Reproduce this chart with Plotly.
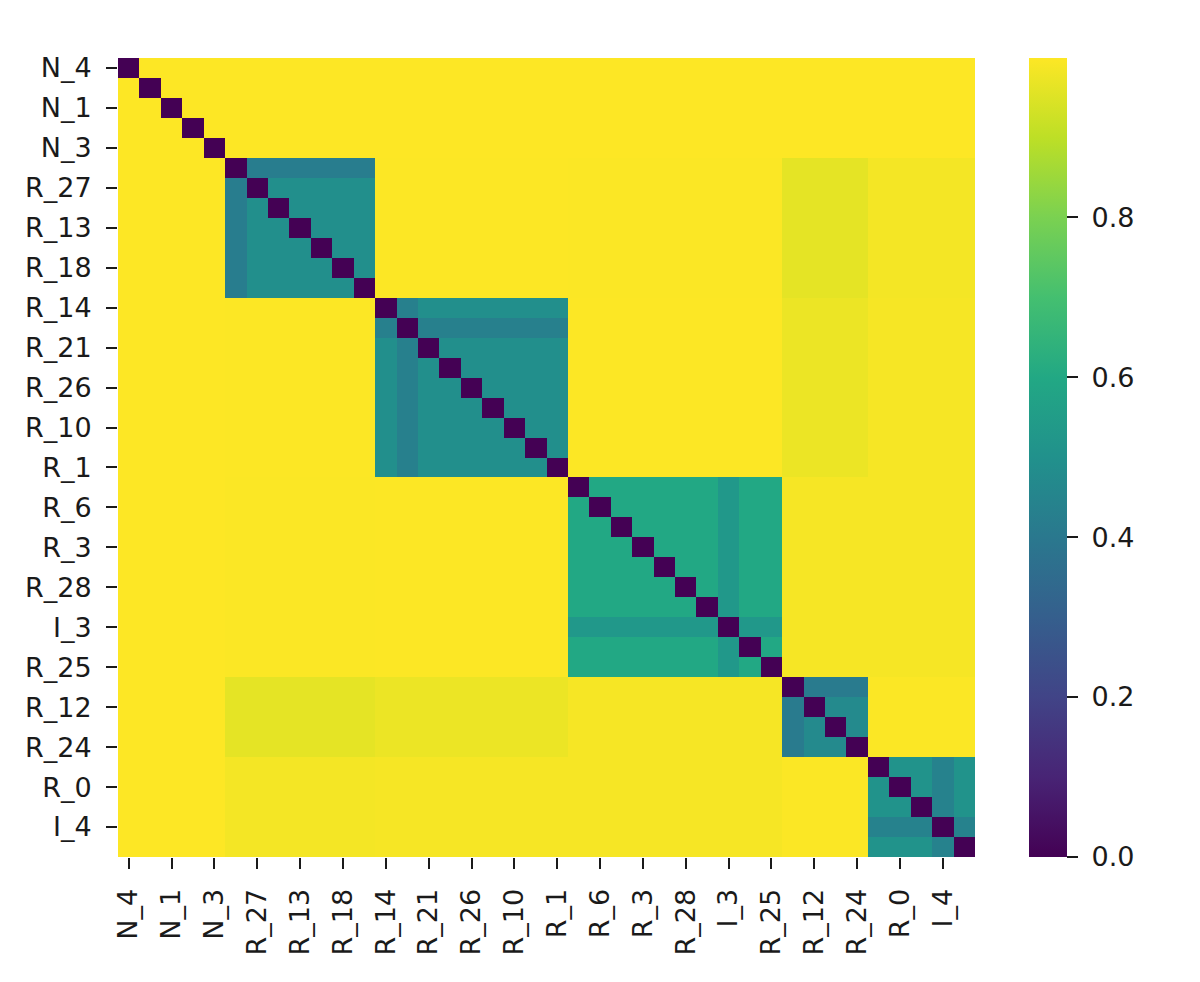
#!/usr/bin/env python3
"""Clustered pairwise distance heatmap (seaborn-style viridis) rebuilt in plotly."""

import plotly.graph_objects as go

# row/column order of the matrix (only every other label is shown on the axes)
labels = [
    "N_4", "N_2", "N_1", "N_0", "N_3",
    "I_0", "R_27", "R_2", "R_13", "R_4", "R_18", "R_5",
    "R_14", "I_1", "R_21", "R_7", "R_26", "R_8", "R_10", "R_9", "R_1",
    "R_11", "R_6", "R_15", "R_3", "R_16", "R_28", "R_17", "I_3", "R_19", "R_25",
    "I_2", "R_12", "R_20", "R_24",
    "R_22", "R_0", "R_23", "I_4", "R_29",
]
# cluster id of every label, in the same order
cluster = [0] * 5 + [1] * 7 + [2] * 9 + [3] * 10 + [4] * 4 + [5] * 5

# distance between two members of the same cluster
within = [0.999, 0.49, 0.49, 0.60, 0.47, 0.51]
# members that sit a little closer to the rest of their cluster
outliers = {"I_0": 0.42, "I_1": 0.43, "I_3": 0.53, "I_2": 0.41, "I_4": 0.44}
# distance between members of two different clusters
between = [
    [0.999, 0.999, 0.999, 0.999, 0.999, 0.999],
    [0.999, 0.999, 0.998, 0.996, 0.962, 0.985],
    [0.999, 0.998, 0.999, 0.997, 0.972, 0.988],
    [0.999, 0.996, 0.997, 0.999, 0.988, 0.988],
    [0.999, 0.962, 0.972, 0.988, 0.999, 0.996],
    [0.999, 0.985, 0.988, 0.988, 0.996, 0.999],
]

colorbar_ticks = [0.0, 0.2, 0.4, 0.6, 0.8]

# matplotlib viridis sampled at every tenth
VIRIDIS = ["#440154", "#482475", "#414487", "#355f8d", "#2a788e", "#21918c",
           "#22a884", "#44bf70", "#7ad151", "#bddf26", "#fde725"]


def cell(a, b):
    if a == b:
        return 0.0
    ga, gb = cluster[labels.index(a)], cluster[labels.index(b)]
    if ga != gb:
        return between[ga][gb]
    return min(outliers.get(a, within[ga]), outliers.get(b, within[ga]))


z = [[cell(a, b) for b in labels] for a in labels]
zmax = max(max(row) for row in z)

font = dict(family="DejaVu Sans", size=27, color="#1a1a1a")
fig = go.Figure(
    go.Heatmap(
        x=labels,
        y=labels,
        z=z,
        zmin=0,
        zmax=zmax,
        colorscale=[[i / 10, c] for i, c in enumerate(VIRIDIS)],
        colorbar=dict(
            x=(1029 - 118) / 857,
            xanchor="left",
            xpad=0,
            y=0.5,
            yanchor="middle",
            ypad=0,
            len=1,
            thickness=38,
            outlinewidth=0,
            tickvals=colorbar_ticks,
            ticktext=[f"\u00a0{v:.1f}" for v in colorbar_ticks],
            ticks="outside",
            ticklen=11,
            tickwidth=1.6,
            tickcolor="#1a1a1a",
            tickfont=font,
        ),
    )
)

axis = dict(
    type="category",
    tickvals=labels[::2],
    ticktext=labels[::2],
    ticks="outside",
    ticklen=11,
    tickwidth=1.6,
    tickcolor="#1a1a1a",
    tickfont=font,
    ticklabelstandoff=9,
    showgrid=False,
    zeroline=False,
    showline=False,
    automargin=False,
)
fig.update_xaxes(**axis, tickangle=-90, range=[-0.5, len(labels) - 0.5])
fig.update_yaxes(**axis, range=[len(labels) - 0.5, -0.5])

# the page adds 8px of body margin, so the figure is shrunk by that much
fig.update_layout(
    width=1192,
    height=974,
    margin=dict(l=110, r=225, t=50, b=125),
    paper_bgcolor="white",
    plot_bgcolor="white",
    font=font,
)

fig.write_html("out.html")
